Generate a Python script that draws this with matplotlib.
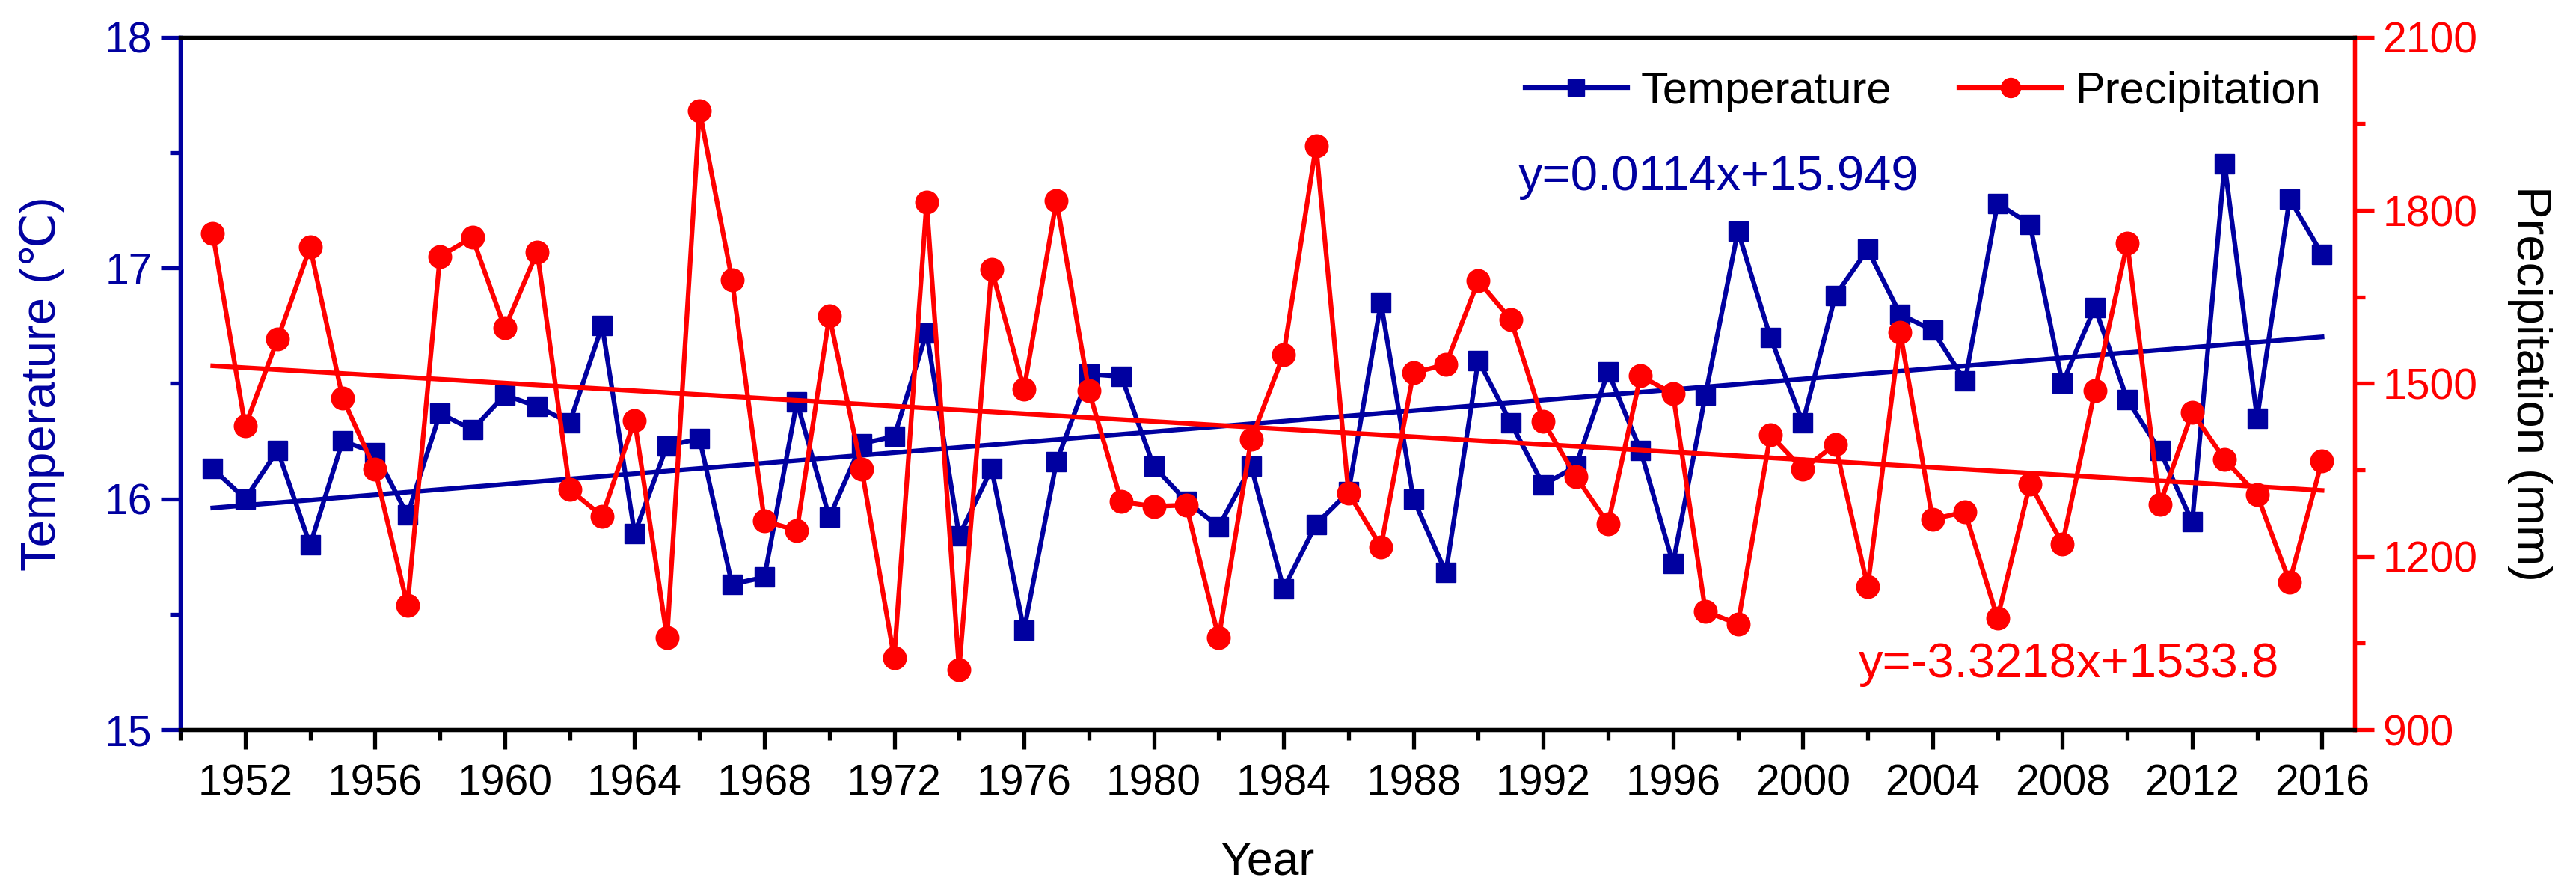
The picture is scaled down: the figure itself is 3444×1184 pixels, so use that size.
import matplotlib
matplotlib.use("Agg")
import matplotlib.pyplot as plt
import numpy as np
from matplotlib.ticker import MultipleLocator

plt.rcParams['font.family'] = ['Liberation Sans', 'DejaVu Sans']

years = list(range(1951, 2017))
temperature = [16.13, 16.00, 16.21, 15.80, 16.25, 16.20, 15.93, 16.37, 16.30, 16.45,
               16.40, 16.33, 16.75, 15.85, 16.23, 16.26, 15.63, 15.66, 16.42, 15.92,
               16.24, 16.27, 16.72, 15.84, 16.13, 15.43, 16.16, 16.54, 16.53, 16.14,
               15.99, 15.88, 16.14, 15.61, 15.89, 16.03, 16.85, 16.00, 15.68, 16.60,
               16.33, 16.06, 16.14, 16.55, 16.21, 15.72, 16.45, 17.16, 16.70, 16.33,
               16.88, 17.08, 16.80, 16.73, 16.51, 17.28, 17.19, 16.50, 16.83, 16.43,
               16.21, 15.90, 17.45, 16.35, 17.30, 17.06]
precipitation = [1760, 1426, 1577, 1736, 1475, 1351, 1115, 1720, 1753, 1596,
                 1728, 1316, 1270, 1436, 1059, 1973, 1680, 1262, 1245, 1617,
                 1351, 1024, 1814, 1004, 1698, 1490, 1817, 1487, 1295, 1287,
                 1289, 1059, 1403, 1550, 1912, 1310, 1217, 1518, 1533, 1678,
                 1611, 1434, 1339, 1257, 1513, 1482, 1105, 1083, 1411, 1351,
                 1394, 1148, 1589, 1265, 1277, 1093, 1326, 1222, 1487, 1743,
                 1290, 1450, 1368, 1307, 1156, 1366]

temp_fit = (0.0114, 15.949)      # slope, intercept (x = index from 1)
prec_fit = (-3.3218, 1533.8)

BLUE = '#0000A0'
RED = '#FF0000'

fig = plt.figure(figsize=(34.44, 11.84), dpi=100)
ax = fig.add_axes([0.070, 0.1765, 0.844, 0.7815])
ax2 = ax.twinx()

x = np.array(years)
idx = np.arange(1, len(years) + 1)

LW = 4.5
l1, = ax.plot(x, temperature, '-s', color=BLUE, lw=LW, ms=19, label='Temperature', zorder=3)
ax.plot(x[[0, -1]], temp_fit[0] * idx[[0, -1]] + temp_fit[1], '-', color=BLUE, lw=LW, zorder=2)
l2, = ax2.plot(x, precipitation, '-o', color=RED, lw=LW, ms=22, label='Precipitation', zorder=3)
ax2.plot(x[[0, -1]], prec_fit[0] * idx[[0, -1]] + prec_fit[1], '-', color=RED, lw=LW, zorder=2)

ax.set_xlim(1950, 2017)
ax.set_ylim(15, 18)
ax2.set_ylim(900, 2100)

ax.set_xticks(list(range(1952, 2017, 4)))
ax.xaxis.set_minor_locator(MultipleLocator(2))
ax.yaxis.set_major_locator(MultipleLocator(1))
ax.yaxis.set_minor_locator(MultipleLocator(0.5))
ax2.yaxis.set_major_locator(MultipleLocator(300))
ax2.yaxis.set_minor_locator(MultipleLocator(150))

FS = 41
SW = 3.8
for a in (ax, ax2):
    for s in a.spines.values():
        s.set_linewidth(SW)
ax.spines['left'].set_color(BLUE)
ax2.spines['left'].set_color(BLUE)
ax.spines['right'].set_color(RED)
ax2.spines['right'].set_color(RED)

ax.tick_params(axis='x', which='major', direction='out', length=19, width=SW, labelsize=FS, pad=14, top=False)
ax.tick_params(axis='x', which='minor', direction='out', length=10, width=SW, top=False)
ax.tick_params(axis='y', which='major', direction='out', length=19, width=SW, labelsize=FS,
               colors=BLUE, pad=8)
ax.tick_params(axis='y', which='minor', direction='out', length=10, width=SW, colors=BLUE)
ax2.tick_params(axis='y', which='major', direction='out', length=19, width=SW, labelsize=FS,
                colors=RED, pad=8)
ax2.tick_params(axis='y', which='minor', direction='out', length=10, width=SW, colors=RED)

ax.set_xlabel('Year', fontsize=45, labelpad=34)
ax.set_ylabel('Temperature (℃)', fontsize=47, color=BLUE, labelpad=38)
ax2.set_ylabel('Precipitation (mm)', fontsize=47, color='black', rotation=270, labelpad=72)

ax.text(2030 / 3444, 1 - 237 / 1184, 'y=0.0114x+15.949', transform=fig.transFigure,
        fontsize=47, color=BLUE, va='center', ha='left')
ax.text(2485 / 3444, 1 - 888 / 1184, 'y=-3.3218x+1533.8', transform=fig.transFigure,
        fontsize=47, color=RED, va='center', ha='left')

leg = ax2.legend([l1, l2], ['Temperature', 'Precipitation'], loc='upper right', ncol=2,
                 frameon=False, fontsize=43, handlelength=2.3, handletextpad=0.3,
                 columnspacing=1.5, borderaxespad=0.35, markerscale=0.85)

fig.savefig('out.png', dpi=100)
